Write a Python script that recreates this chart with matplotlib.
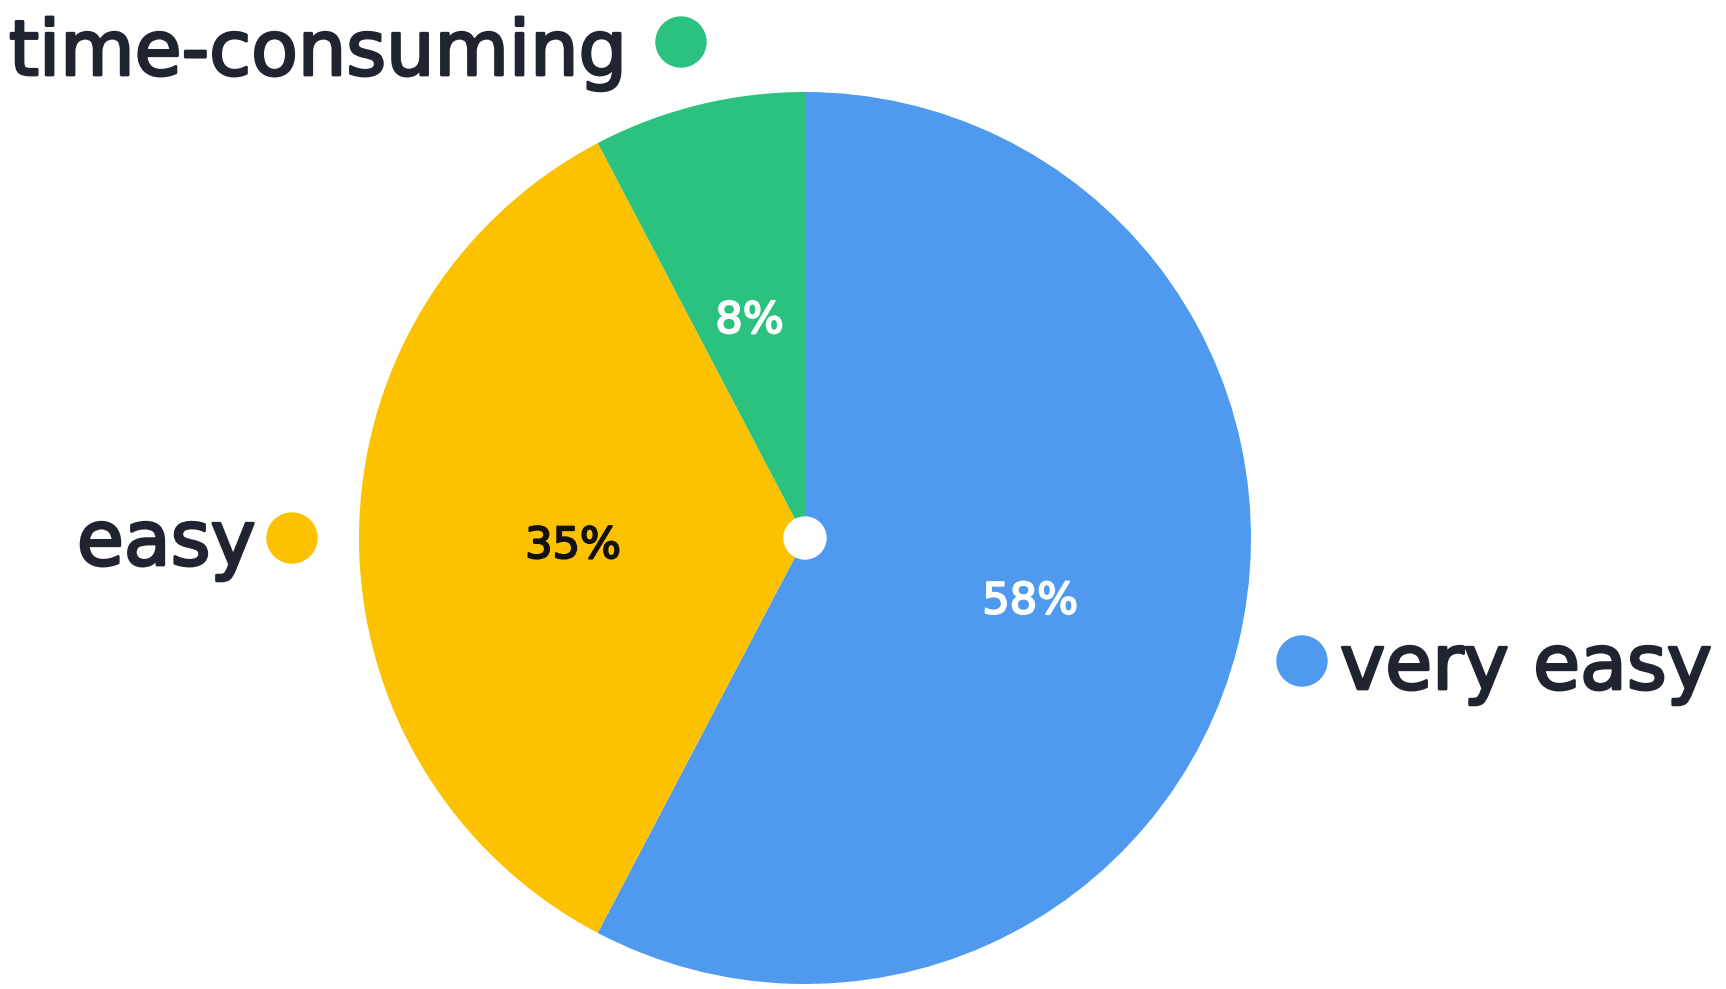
import matplotlib.pyplot as plt
import matplotlib.patheffects as pe

# survey answers (counts), shown as rounded percentages
labels = ['very easy', 'easy', 'time-consuming']
counts = [15, 9, 2]
colors = ['#4f9aee', '#fcc200', '#2ac27e']
pct_colors = ['white', '#111111', 'white']

W, H = 1726, 989
fig = plt.figure(figsize=(W / 100, H / 100), dpi=100)
ax = fig.add_axes([0, 0, 1, 1])

cx, cy, r = 805, H - 538, 446

wedges, texts, autotexts = ax.pie(
    counts, colors=colors, startangle=90, counterclock=False,
    center=(cx, cy), radius=r, frame=True,
    autopct=lambda p: '{:.0f}%'.format(p), pctdistance=0.52,
    wedgeprops=dict(linewidth=0),
)
ax.set_xlim(0, W)
ax.set_ylim(0, H)
ax.set_aspect('equal')
ax.axis('off')

for t, c in zip(autotexts, pct_colors):
    x, y = t.get_position()
    t.set_position((x, y - 8))
    t.set_color(c)
    t.set_fontsize(31)
    t.set_fontfamily('DejaVu Sans')
    t.set_path_effects([pe.withStroke(linewidth=1.4, foreground=c)])

# white dot in the middle
ax.add_patch(plt.Circle((cx, cy), 21, color='white', zorder=5))

# category labels with colour dots
txt = '#1f2430'
font = dict(fontsize=55, fontfamily='DejaVu Sans', color=txt,
            path_effects=[pe.withStroke(linewidth=2, foreground=txt)])
ax.text(9, H - 75, labels[2], ha='left', va='baseline', **font)
ax.add_patch(plt.Circle((681, H - 42), 25, color=colors[2]))

ax.text(256, H - 565, labels[1], ha='right', va='baseline', **font)
ax.add_patch(plt.Circle((292, H - 538), 25, color=colors[1]))

ax.text(1340, H - 689, labels[0], ha='left', va='baseline', **font)
ax.add_patch(plt.Circle((1302, H - 661), 25, color=colors[0]))

fig.savefig('out.png', dpi=100, facecolor='white')
